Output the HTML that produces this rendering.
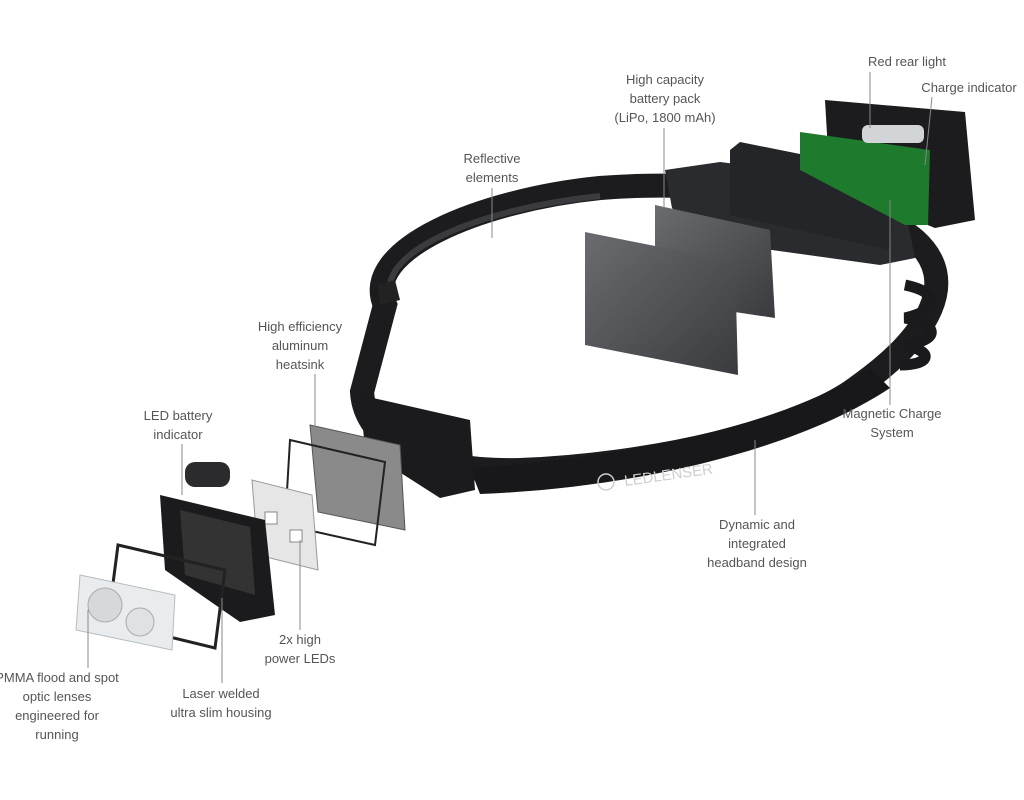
<!DOCTYPE html>
<html><head><meta charset="utf-8"><style>
html,body{margin:0;padding:0;background:#fff;}
.wrap{position:relative;width:1024px;height:800px;overflow:hidden;font-family:"Liberation Sans",sans-serif;}
.t{position:absolute;font-size:13px;line-height:19px;color:#555;text-align:center;white-space:nowrap;transform:translateX(-50%);}
svg{position:absolute;left:0;top:0;}
</style></head><body><div class="wrap">
<svg width="1024" height="800" viewBox="0 0 1024 800">
<defs>
<linearGradient id="bat" x1="0" y1="0" x2="1" y2="1"><stop offset="0" stop-color="#6a6c70"/><stop offset="1" stop-color="#3a3b3e"/></linearGradient>
</defs>
<!-- headband -->
<path d="M385,305 C360,250 480,200 600,188 C720,178 870,200 915,240 C960,280 930,335 860,385 C800,432 650,465 520,470 C420,472 365,440 362,392 Z" fill="none" stroke="#1c1c1f" stroke-width="24"/>
<path d="M392,300 C372,252 482,208 600,196" fill="none" stroke="#3a3b3f" stroke-width="6"/>
<path d="M470,468 C620,458 780,428 870,368 L890,388 C800,448 640,488 480,494 Z" fill="#18181a"/>
<text x="625" y="486" font-family="Liberation Sans" font-size="15" fill="#cfcfcf" transform="rotate(-8 625 486)">LEDLENSER</text>
<circle cx="606" cy="482" r="8" fill="none" stroke="#cfcfcf" stroke-width="1.5"/>
<!-- coil -->
<path d="M905,285 C940,292 940,310 905,318 C940,325 940,340 905,345 C935,352 930,365 900,365" fill="none" stroke="#1a1a1c" stroke-width="11"/>
<!-- rear holder -->
<path d="M665,170 L720,162 L900,185 L915,258 L880,265 L700,240 L672,208 Z" fill="#2a2b2e"/>
<path d="M730,150 L740,142 L880,170 L895,185 L890,250 L730,215 Z" fill="#242528"/>
<!-- rear unit -->
<path d="M825,100 L965,112 L975,220 L935,228 L830,185 Z" fill="#1c1c1e"/>
<path d="M800,132 L930,150 L928,225 L905,225 L800,170 Z" fill="#1e7a2c"/>
<rect x="862" y="125" width="62" height="18" rx="6" fill="#d2d5d7"/>
<!-- batteries -->
<path d="M655,205 L770,230 L775,318 L655,300 Z" fill="url(#bat)"/>
<path d="M585,232 L735,262 L738,375 L585,345 Z" fill="url(#bat)"/>
<!-- front connector area -->
<path d="M360,395 L470,420 L475,490 L440,498 L365,450 Z" fill="#1b1b1d"/>
<path d="M378,285 L395,280 L400,300 L380,305 Z" fill="#222"/>
<!-- heatsink -->
<path d="M310,425 L400,445 L405,530 L318,512 Z" fill="#8a8a8a" stroke="#555"/>
<path d="M290,440 L385,462 L375,545 L285,525 Z" fill="none" stroke="#222" stroke-width="2"/>
<!-- LED board -->
<path d="M252,480 L312,495 L318,570 L258,555 Z" fill="#e6e6e6" stroke="#999"/>
<rect x="265" y="512" width="12" height="12" fill="#fff" stroke="#888"/>
<rect x="290" y="530" width="12" height="12" fill="#fff" stroke="#888"/>
<!-- battery indicator -->
<rect x="185" y="462" width="45" height="25" rx="10" fill="#2b2b2d"/>
<!-- housing -->
<path d="M160,495 L265,520 L275,615 L240,622 L165,570 Z" fill="#1b1b1d"/>
<path d="M180,510 L250,527 L255,595 L185,575 Z" fill="#333"/>
<path d="M118,545 L225,570 L215,648 L108,622 Z" fill="none" stroke="#222" stroke-width="3"/>
<!-- lens -->
<path d="M80,575 L175,595 L172,650 L76,630 Z" fill="#e9ecee" stroke="#b8bcbf"/>
<circle cx="105" cy="605" r="17" fill="#d6d9db" stroke="#aaa"/>
<circle cx="140" cy="622" r="14" fill="#dfe2e4" stroke="#aaa"/>
<!-- leader lines -->
<g stroke="#888" stroke-width="1" fill="none">
<line x1="870" y1="72" x2="870" y2="128"/>
<line x1="932" y1="97" x2="925" y2="165"/>
<line x1="664" y1="128" x2="664" y2="208"/>
<line x1="492" y1="188" x2="492" y2="238"/>
<line x1="315" y1="374" x2="315" y2="430"/>
<line x1="182" y1="444" x2="182" y2="495"/>
<line x1="890" y1="405" x2="890" y2="200"/>
<line x1="755" y1="515" x2="755" y2="440"/>
<line x1="300" y1="630" x2="300" y2="540"/>
<line x1="222" y1="683" x2="222" y2="598"/>
<line x1="88" y1="668" x2="88" y2="610"/>
</g>
</svg>
<div class="t" style="left:907px;top:52px">Red rear light</div>
<div class="t" style="left:969px;top:78px">Charge indicator</div>
<div class="t" style="left:665px;top:70px">High capacity<br>battery pack<br>(LiPo, 1800 mAh)</div>
<div class="t" style="left:492px;top:149px">Reflective<br>elements</div>
<div class="t" style="left:300px;top:317px">High efficiency<br>aluminum<br>heatsink</div>
<div class="t" style="left:178px;top:406px">LED battery<br>indicator</div>
<div class="t" style="left:892px;top:404px">Magnetic Charge<br>System</div>
<div class="t" style="left:757px;top:515px">Dynamic and<br>integrated<br>headband design</div>
<div class="t" style="left:300px;top:630px">2x high<br>power LEDs</div>
<div class="t" style="left:57px;top:668px">PMMA flood and spot<br>optic lenses<br>engineered for<br>running</div>
<div class="t" style="left:221px;top:684px">Laser welded<br>ultra slim housing</div>
</div></body></html>
